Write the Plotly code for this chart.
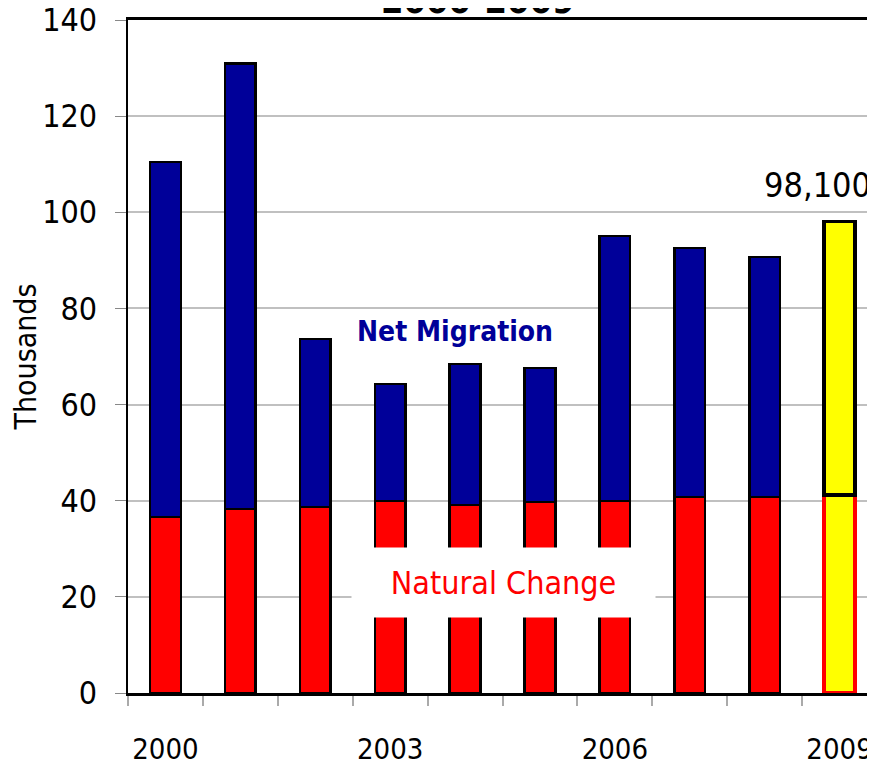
import plotly.graph_objects as go

years = ["2000", "2001", "2002", "2003", "2004", "2005", "2006", "2007", "2008", "2009"]
tick_text = ["2000", "", "", "2003", "", "", "2006", "", "", "2009"]
natural_change = [36.6, 38.3, 38.7, 39.9, 39.1, 39.7, 39.9, 40.8, 40.8, 41.2]
net_migration = [73.9, 92.7, 34.9, 24.4, 29.3, 27.9, 55.2, 51.8, 49.9, 56.9]
total_2009 = "98,100"

FONT = "DejaVu Sans Condensed, sans-serif"

nat_fill = ["red"] * 9 + ["yellow"]
nat_line = ["black"] * 9 + ["red"]
mig_fill = ["#000099"] * 9 + ["yellow"]
line_w = [2.5] * 9 + [3.5]

fig = go.Figure()
fig.add_trace(go.Bar(x=years, y=natural_change, name="Natural Change",
                     marker=dict(color=nat_fill, line=dict(color=nat_line, width=line_w))))
fig.add_trace(go.Bar(x=years, y=net_migration, name="Net Migration",
                     marker=dict(color=mig_fill, line=dict(color="black", width=line_w))))

# page body adds an 8px offset, so the figure is sized to fit the window
fig.update_layout(
    barmode="stack", bargap=0.59, width=869, height=758,
    margin=dict(l=120, r=0, t=12, b=73),
    plot_bgcolor="white", paper_bgcolor="white",
    showlegend=False,
    font=dict(family=FONT, color="black"),
)
fig.update_xaxes(type="category", range=[-0.5, 9.5], tickvals=years, ticktext=tick_text,
                 tickson="boundaries", tickangle=0, ticks="outside", ticklen=10,
                 tickcolor="#aaaaaa", tickwidth=2, automargin=False,
                 showline=True, linecolor="black", linewidth=3, mirror=True,
                 tickfont=dict(size=29, family=FONT), ticklabelstandoff=28)
fig.update_yaxes(range=[0, 140], dtick=20, showgrid=True, gridcolor="#c0c0c0", gridwidth=2,
                 ticks="outside", ticklen=11, tickcolor="#888888", automargin=False,
                 showline=True, linecolor="black", linewidth=2, ticklabeloverflow="allow",
                 ticksuffix="\u2009\u2009",
                 tickfont=dict(size=32, family=FONT),
                 title=dict(text="Thousands", font=dict(size=30, family=FONT), standoff=0))

fig.add_annotation(x=0.5, y=1, xref="paper", yref="paper", xanchor="center", yanchor="bottom",
                   yshift=-3, xshift=-25, text="<b>2000-2009</b>", showarrow=False,
                   font=dict(size=36, family=FONT))
fig.add_annotation(x=4, y=75.3, text="<b>Net Migration</b>", showarrow=False, xshift=-10,
                   font=dict(size=28, color="#000099", family=FONT))
fig.add_annotation(x=4, y=22.9, text="Natural Change", showarrow=False, xshift=38,
                   bgcolor="white", borderpad=10, width=283, height=49,
                   font=dict(size=32, color="red", family=FONT))
fig.add_annotation(x=9, y=105.7, text=total_2009, showarrow=False, xshift=-22,
                   font=dict(size=34, family=FONT))

fig.write_html("out.html")
